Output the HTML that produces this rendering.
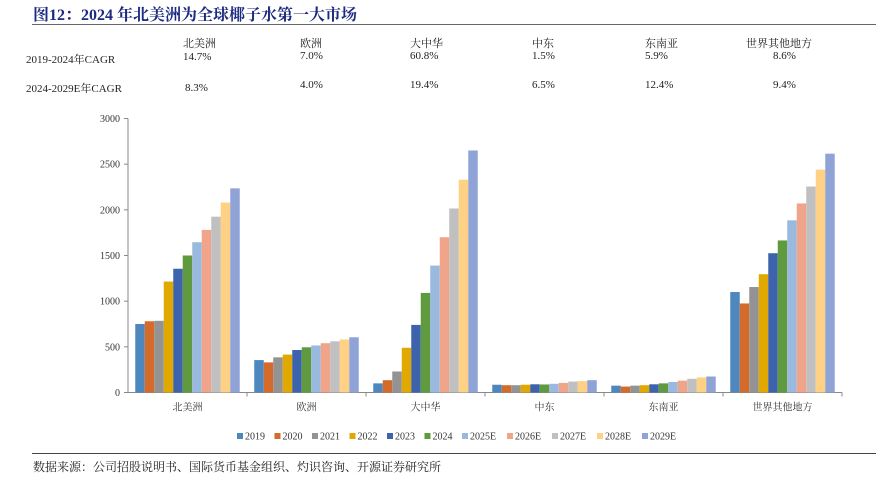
<!DOCTYPE html>
<html><head><meta charset="utf-8"><style>
body{margin:0;background:#fff;width:876px;height:481px;overflow:hidden;position:relative;font-family:"Liberation Serif","Noto Serif CJK SC",serif;}
.t{position:absolute;white-space:nowrap;color:#222;font-size:11px}
</style></head><body>
<div class="t" style="left:33px;top:2px;font-size:16px;font-weight:bold;color:#1c2a80">图12：2024 年北美洲为全球椰子水第一大市场</div>
<div style="position:absolute;left:32px;top:24px;width:844px;height:1px;background:#666"></div>
<div>
<div class="t" style="left:183px;top:35px">北美洲</div>
<div class="t" style="left:300px;top:35px">欧洲</div>
<div class="t" style="left:410px;top:35px">大中华</div>
<div class="t" style="left:532px;top:35px">中东</div>
<div class="t" style="left:645px;top:35px">东南亚</div>
<div class="t" style="left:746px;top:35px">世界其他地方</div>
<div class="t" style="left:26px;top:51px">2019-2024年CAGR</div>
<div class="t" style="left:183px;top:51px">14.7%</div>
<div class="t" style="left:300px;top:50px">7.0%</div>
<div class="t" style="left:410px;top:50px">60.8%</div>
<div class="t" style="left:532px;top:50px">1.5%</div>
<div class="t" style="left:645px;top:50px">5.9%</div>
<div class="t" style="left:773px;top:50px">8.6%</div>
<div class="t" style="left:26px;top:80px">2024-2029E年CAGR</div>
<div class="t" style="left:185px;top:82px">8.3%</div>
<div class="t" style="left:300px;top:79px">4.0%</div>
<div class="t" style="left:410px;top:79px">19.4%</div>
<div class="t" style="left:532px;top:79px">6.5%</div>
<div class="t" style="left:645px;top:79px">12.4%</div>
<div class="t" style="left:773px;top:79px">9.4%</div>
</div>
<svg id="chart" width="876" height="481" style="position:absolute;left:0;top:0"></svg>
<div style="position:absolute;left:32px;top:453px;width:844px;height:1px;background:#444"></div>
<div class="t" style="left:33px;top:458px;font-size:12px">数据来源：公司招股说明书、国际货币基金组织、灼识咨询、开源证券研究所</div>
<script>
const categories=["北美洲","欧洲","大中华","中东","东南亚","世界其他地方"];
const seriesNames=["2019","2020","2021","2022","2023","2024","2025E","2026E","2027E","2028E","2029E"];
const s2019=[750,355,100,85,75,1100];
const s2020=[780,330,135,80,65,975];
const s2021=[785,385,230,80,75,1155];
const s2022=[1215,415,490,85,80,1295];
const s2023=[1355,465,740,90,90,1525];
const s2024=[1500,495,1090,88,100,1665];
const s2025=[1645,515,1390,95,115,1885];
const s2026=[1780,540,1700,105,130,2070];
const s2027=[1925,560,2015,120,150,2255];
const s2028=[2080,580,2330,125,165,2440];
const s2029=[2235,605,2650,135,175,2615];
const yTicks=[0,500,1000,1500,2000,2500,3000];
const series=[s2019,s2020,s2021,s2022,s2023,s2024,s2025,s2026,s2027,s2028,s2029];
const colors=["#4e87be","#d46b2a","#939393","#e1a900","#3d63ac","#5f9a3e","#9ab9df","#f0a58a","#c0c0c0","#fed184","#8fa3d6"];
const svg=document.getElementById('chart');const NS="http://www.w3.org/2000/svg";
const X0=128,X1=842,Y0=392.5,Y1=118.5,YMAX=3000;
const cw=(X1-X0)/categories.length,bw=9.5,pad=(cw-bw*11)/2;
const y=v=>Y0-(v/YMAX)*(Y0-Y1);
function mk(t,a){const e=document.createElementNS(NS,t);for(const k in a)e.setAttribute(k,a[k]);svg.appendChild(e);return e;}
let ax=mk('line',{x1:X0,y1:Y1,x2:X0,y2:Y0,stroke:'#888'});

let bx=mk('line',{x1:X0,y1:Y0,x2:X1,y2:Y0,stroke:'#888'});

yTicks.forEach(v=>{
 let tk=mk('line',{x1:X0-4,y1:y(v),x2:X0,y2:y(v),stroke:'#888'});
 
 let t=mk('text',{x:X0-8,y:y(v)+3.5,'text-anchor':'end','font-size':'10','fill':'#333','font-family':'Liberation Serif,serif'});
 t.textContent=v;
});
categories.forEach((c,i)=>{
 let tk=mk('line',{x1:X0+cw*(i+1),y1:Y0,x2:X0+cw*(i+1),y2:Y0+4,stroke:'#888'});
 
 let t=mk('text',{x:X0+cw*(i+0.5),y:Y0+18,'text-anchor':'middle','font-size':'10','fill':'#333','font-family':'Liberation Serif,Noto Serif CJK SC,serif'});
 t.textContent=c;
 series.forEach((s,j)=>{
  let r=mk('rect',{x:X0+cw*i+pad+j*bw,y:y(s[i]),width:bw,height:Y0-y(s[i]),fill:colors[j]});
  
 });
});
let lx=237;
seriesNames.forEach((n,j)=>{
 let r=mk('rect',{x:lx,y:433,width:6,height:6,fill:colors[j]});
 
 let t=mk('text',{x:lx+8,y:439.5,'font-size':'10','fill':'#333','font-family':'Liberation Serif,serif'});
 t.textContent=n;
 lx+= n.length>4?45:37.5;
});
</script>
</body></html>
